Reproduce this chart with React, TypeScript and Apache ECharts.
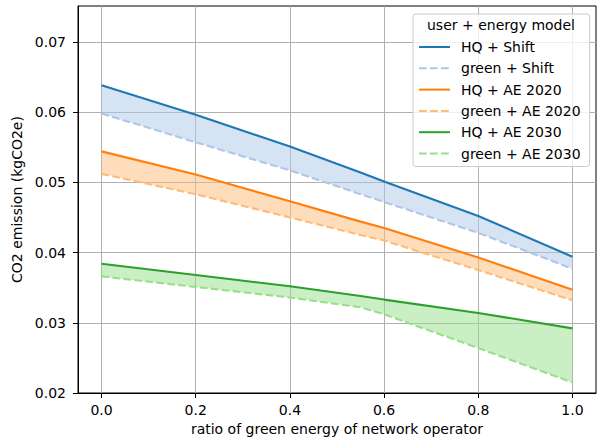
import React, { useEffect, useRef } from "react";
import * as echarts from "echarts";

const ratios = [0, 0.2, 0.4, 0.55, 0.6, 0.8, 1.0];
const hqShift = [0.0638, 0.0596, 0.0551, 0.0514, 0.0501, 0.0452, 0.0394];
const greenShift = [0.0598, 0.0557, 0.0517, 0.0483, 0.0472, 0.0428, 0.0377];
const hqAE2020 = [0.0544, 0.0511, 0.0473, 0.0444, 0.0435, 0.0393, 0.0347];
const greenAE2020 = [0.0512, 0.0483, 0.045, 0.0425, 0.0417, 0.0375, 0.0332];
const hqAE2030 = [0.0384, 0.0368, 0.0352, 0.0338, 0.0333, 0.0314, 0.0292];
const greenAE2030 = [0.0366, 0.0351, 0.0336, 0.0322, 0.0312, 0.0264, 0.0215];

const xTicks = [0, 0.2, 0.4, 0.6, 0.8, 1.0];
const yTicks = [0.02, 0.03, 0.04, 0.05, 0.06, 0.07];

const names = [
  "HQ + Shift",
  "green + Shift",
  "HQ + AE 2020",
  "green + AE 2020",
  "HQ + AE 2030",
  "green + AE 2030",
];
const legendTitle = "user + energy model";
const xName = "ratio of green energy of network operator";
const yName = "CO2 emission (kgCO2e)";

const FONT = "DejaVu Sans";

export default function App() {
  const ref = useRef<HTMLDivElement>(null);
  useEffect(() => {
    document.body.style.margin = "0";
    if (!ref.current) return;
    const chart = echarts.init(ref.current, null, { renderer: "svg" });
    const pts = (arr: number[]) => ratios.map((x, i) => [x, arr[i]]);

    const groups = [
      { hi: hqShift, lo: greenShift, c: "#1f77b4", lc: "#aec7e8", fill: "rgba(174,199,232,0.5)" },
      { hi: hqAE2020, lo: greenAE2020, c: "#ff7f0e", lc: "#ffbb78", fill: "rgba(255,187,120,0.5)" },
      { hi: hqAE2030, lo: greenAE2030, c: "#2ca02c", lc: "#98df8a", fill: "rgba(152,223,138,0.5)" },
    ];

    const series: any[] = [];
    groups.forEach((g) => {
      series.push({
        type: "custom",
        silent: true,
        z: 1,
        clip: true,
        data: ratios.map((x, i) => [x, g.hi[i], g.lo[i]]),
        encode: { x: 0, y: [1, 2] },
        renderItem: (params: any, api: any) => {
          if (params.dataIndex !== 0) return null;
          const upper = ratios.map((x, i) => api.coord([x, g.hi[i]]));
          const lower = ratios.map((x, i) => api.coord([x, g.lo[i]])).reverse();
          return {
            type: "polygon",
            shape: { points: upper.concat(lower) },
            style: { fill: g.fill, stroke: "none" },
            silent: true,
          };
        },
      });
    });
    groups.forEach((g, gi) => {
      series.push({
        type: "line",
        name: names[gi * 2],
        data: pts(g.hi),
        symbol: "none",
        lineStyle: { color: g.c, width: 2.1, type: "solid" },
        itemStyle: { color: g.c },
        z: 3,
        silent: true,
      });
      series.push({
        type: "line",
        name: names[gi * 2 + 1],
        data: pts(g.lo),
        symbol: "none",
        lineStyle: { color: g.lc, width: 2.1, type: [7.7, 3.3] },
        itemStyle: { color: g.lc },
        z: 2,
        silent: true,
      });
    });

    const axisText = { fontFamily: FONT, fontSize: 14, color: "#000" };

    chart.setOption({
      animation: false,
      backgroundColor: "#fff",
      grid: {
        left: 78,
        top: 6,
        width: 518,
        height: 387,
        show: true,
        borderColor: "#000",
        borderWidth: 1,
        backgroundColor: "transparent",
        outerBoundsMode: "none",
      },
      xAxis: {
        type: "value",
        min: -0.05,
        max: 1.05,
        name: xName,
        nameLocation: "middle",
        nameGap: 27,
        nameTextStyle: axisText,
        axisLine: { show: true, onZero: false, lineStyle: { color: "#000", width: 1 } },
        axisTick: { show: true, length: 5, lineStyle: { color: "#000", width: 1 }, customValues: xTicks },
        axisLabel: { ...axisText, margin: 10, customValues: xTicks, formatter: (v: number) => v.toFixed(1) },
        splitLine: { show: true, lineStyle: { color: "#b0b0b0", width: 1 } },
      },
      yAxis: {
        type: "value",
        min: 0.02,
        max: 0.0751,
        name: yName,
        nameLocation: "middle",
        nameRotate: 90,
        nameGap: 47,
        nameTextStyle: axisText,
        axisLine: { show: true, onZero: false, lineStyle: { color: "#000", width: 1 } },
        axisTick: { show: true, length: 5, lineStyle: { color: "#000", width: 1 }, customValues: yTicks },
        axisLabel: { ...axisText, margin: 12, customValues: yTicks, formatter: (v: number) => v.toFixed(2) },
        splitLine: { show: true, lineStyle: { color: "#b0b0b0", width: 1 } },
      },
      legend: {
        data: names,
        orient: "vertical",
        left: 413,
        top: 14,
        padding: [26, 9, 6, 5],
        itemWidth: 31,
        itemHeight: 14,
        itemGap: 7.3,
        borderColor: "#cccccc",
        borderWidth: 1,
        borderRadius: 3,
        backgroundColor: "rgba(255,255,255,0.8)",
        itemStyle: { opacity: 0 },
        textStyle: { fontFamily: FONT, fontSize: 14, color: "#000", padding: [0, 0, 0, 6] },
        selectedMode: false,
      },
      graphic: {
        elements: [
          {
            type: "text",
            z: 100,
            style: {
              text: legendTitle,
              x: 501,
              y: 25,
              align: "center",
              verticalAlign: "middle",
              font: `14px "${FONT}"`,
              fill: "#000",
            },
          },
        ],
      },
      series,
    });
    return () => chart.dispose();
  }, []);
  return <div ref={ref} style={{ width: 599, height: 440 }} />;
}
